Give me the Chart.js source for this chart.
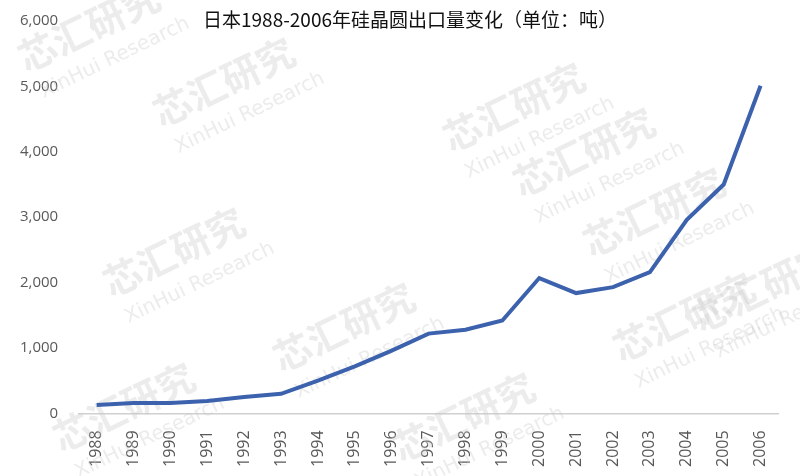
<!DOCTYPE html>
<html>
<head>
<meta charset="utf-8">
<script src="https://cdn.jsdelivr.net/npm/chart.js@4/dist/chart.umd.min.js"></script>
<style>
  html, body { margin: 0; padding: 0; background: #fff; }
  #wrap { width: 800px; height: 476px; }
</style>
</head>
<body>
<div id="wrap"><canvas id="grafico"></canvas></div>
<script>
const years = ["1988", "1989", "1990", "1991", "1992", "1993", "1994", "1995", "1996", "1997",
               "1998", "1999", "2000", "2001", "2002", "2003", "2004", "2005", "2006"];
const exportTons = [130, 160, 160, 190, 250, 300, 500, 720, 960, 1220,
                    1280, 1420, 2070, 1840, 1930, 2160, 2960, 3500, 5010];
const yTicks = [0, 1000, 2000, 3000, 4000, 5000, 6000];
const chartTitle = "日本1988-2006年硅晶圆出口量变化（单位：吨）";

// faint watermark + title drawn on the canvas
const extras = {
  id: "extras",
  beforeDatasetsDraw(chart) {
    const ctx = chart.ctx;
    ctx.save();
    ctx.fillStyle = "rgba(200,200,200,0.35)";
    const spots = [[95, 40], [230, 95], [520, 120], [590, 165], [660, 225], [180, 265],
                   [350, 340], [690, 330], [130, 420], [470, 430], [770, 300]];
    spots.forEach(([x, y]) => {
      ctx.save();
      ctx.translate(x, y);
      ctx.rotate(-0.45);
      ctx.font = "bold 38px 'Noto Sans CJK SC'";
      ctx.textAlign = "center";
      ctx.fillText("芯汇研究", 0, 0);
      ctx.font = "20px 'DejaVu Sans'";
      ctx.fillText("XinHui Research", 10, 30);
      ctx.restore();
    });
    ctx.restore();
  },
  afterDraw(chart) {
    const ctx = chart.ctx;
    ctx.save();
    ctx.fillStyle = "#111";
    ctx.font = "19px 'Noto Sans CJK SC'";
    ctx.textAlign = "center";
    ctx.textBaseline = "middle";
    ctx.fillText(chartTitle, 410, chart.chartArea.top - 1);
    ctx.restore();
  }
};

new Chart(document.getElementById("grafico").getContext("2d"), {
  type: "line",
  data: {
    labels: years,
    datasets: [{
      data: exportTons,
      borderColor: "#3d62ad",
      borderWidth: 4,
      pointRadius: 0,
      tension: 0,
      fill: false
    }]
  },
  options: {
    responsive: true,
    maintainAspectRatio: false,
    animation: false,
    layout: { padding: { top: 0, right: 21, left: 0, bottom: 0 } },
    plugins: { legend: { display: false }, tooltip: { enabled: false } },
    scales: {
      x: {
        offset: true,
        grid: { display: false },
        border: { display: false },
        ticks: {
          color: "#595959",
          font: { size: 16, family: "'Open Sans'" },
          minRotation: 90,
          maxRotation: 90,
          padding: 9
        }
      },
      y: {
        min: 0,
        max: 6000,
        afterBuildTicks(axis) { axis.ticks = yTicks.map(v => ({ value: v })); },
        afterFit(axis) { axis.paddingTop = 21; },
        border: { display: false },
        grid: {
          color: c => (c.tick && c.tick.value === 0 ? "#d0d0d0" : "rgba(0,0,0,0)"),
          lineWidth: 1.5,
          drawTicks: false
        },
        ticks: {
          color: "#595959",
          font: { size: 15, family: "'Open Sans'" },
          padding: 20,
          callback: v => v.toLocaleString("en-US")
        }
      }
    }
  },
  plugins: [extras]
});
</script>
</body>
</html>
